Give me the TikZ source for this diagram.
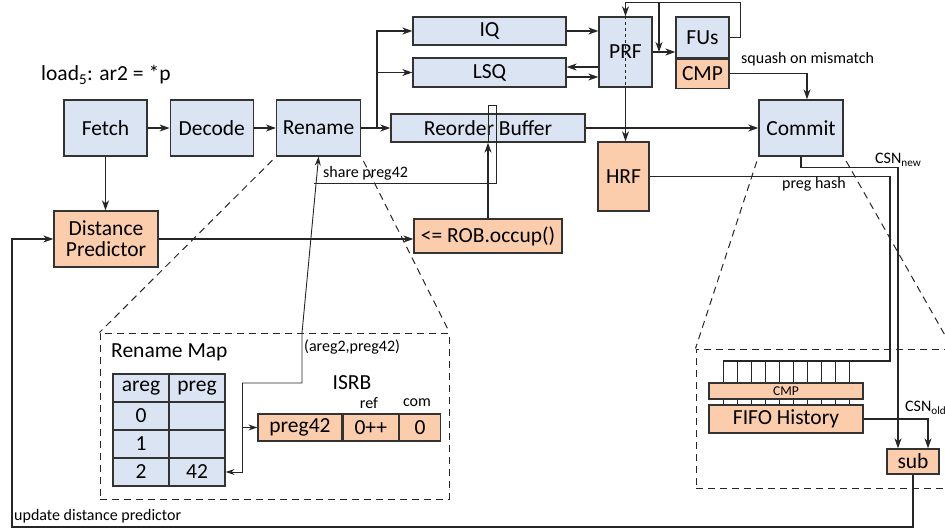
\documentclass[tikz,border=0pt]{standalone}
\usepackage{fontspec}
\setmainfont{Carlito}
\usetikzlibrary{arrows.meta, positioning, calc}
\definecolor{stageblue}{RGB}{219,228,243}
\definecolor{unitorange}{RGB}{252,205,172}
\newcommand{\blkfont}{\fontsize{21.5}{21}\selectfont}
\newcommand{\lblfont}{\fontsize{16}{18}\selectfont}
\newcommand{\cmpfont}{\fontsize{13.5}{14}\selectfont}
\tikzstyle{stage} = [draw=black!80, fill=stageblue, line width=1.3pt, inner sep=0pt, font=\blkfont]
\tikzstyle{unit} = [stage, fill=unitorange]
\tikzstyle{cell} = [stage, minimum width=56pt, minimum height=28pt]
\tikzstyle{wire} = [draw=black!85, line width=1.3pt]
\tikzstyle{thinwire} = [draw=black!85, line width=0.9pt]
\tikzstyle{link} = [wire, -{Stealth[length=10pt,width=7pt,inset=3pt]}]
\tikzstyle{thinlink} = [thinwire, -{Stealth[length=9pt,width=6pt,inset=3pt]}]
\tikzstyle{zoombox} = [draw=black!85, line width=1pt, dash pattern=on 7pt off 5pt]
\tikzstyle{zoomline} = [zoombox, shorten <=5pt]
\tikzstyle{note} = [font=\lblfont, inner sep=0pt]

\begin{document}
\begin{tikzpicture}[x=1pt, y=-1pt]
	\useasboundingbox (0,0) rectangle (945,531);
	\node[anchor=west, font=\blkfont, inner sep=0pt] (instr) at (41,75) {load\textsubscript{5}: ar2 = *p};
	\node[stage, minimum width=83pt, minimum height=56pt] (fetch) at (105.5,128) {Fetch};
	\node[stage, minimum width=83pt, minimum height=56pt, right=22pt of fetch] (decode) {Decode};
	\node[stage, minimum width=84pt, minimum height=56pt, right=22pt of decode] (rename) {Rename};
	\node[stage, minimum width=153pt, minimum height=28pt] (iq) at (489.5,31) {IQ};
	\node[stage, minimum width=153pt, minimum height=29pt] (lsq) at (489.5,72.5) {LSQ};
	\node[stage, minimum width=194pt, minimum height=28pt] (rob) at (488,128) {Reorder Buffer};
	\node[stage, minimum width=53pt, minimum height=70pt] (prf) at (625.5,52) {PRF};
	\node[stage, minimum width=53pt, minimum height=41pt] (fus) at (702.5,37.5) {FUs};
	\node[unit, minimum width=53pt, minimum height=29pt, below=0pt of fus] (cmp) {CMP};
	\node[unit, minimum width=51pt, minimum height=69pt] (hrf) at (623.5,176.5) {HRF};
	\node[stage, minimum width=84pt, minimum height=56pt] (commit) at (801,128) {Commit};
	\node[unit, minimum width=104pt, minimum height=56pt, align=center] (dp) at (106,239) {Distance\\Predictor};
	\node[unit, minimum width=148pt, minimum height=34pt] (occup) at (488,236) {<= ROB.occup()};

	\node[zoombox, minimum width=349pt, minimum height=166pt] (rmap) at (274.5,416) {};
	\node[anchor=west, font=\blkfont, inner sep=0pt] (rmaplbl) at (111,352) {Rename Map};
	\foreach \a/\p [count=\i] in {areg/preg,0/,1/,2/42}{
		\node[cell] (ra\i) at (141,360+28*\i) {\a};
		\node[cell] (rp\i) at (197,360+28*\i) {\p};
	}
	\node[note, font=\blkfont] (isrb) at (352,383) {ISRB};
	\node[note] (ref) at (369,403) {ref};
	\node[note] (com) at (417,403) {com};
	\node[unit, minimum width=84pt, minimum height=27pt] (isrbp) at (300,427.5) {preg42};
	\node[unit, minimum width=55pt, minimum height=27pt, right=0pt of isrbp] (isrbr) {0++};
	\node[unit, minimum width=41pt, minimum height=27pt, right=0pt of isrbr] (isrbc) {0};

	\node[zoombox, minimum width=256pt, minimum height=139pt] (cbox) at (824,418.5) {};
	\foreach \i in {0,...,9}{
		\draw[thinwire] (723+14*\i,361) -- (723+14*\i,383);
		\draw[thinwire] (723+14*\i,399) -- (723+14*\i,405);
	}
	\node[unit, minimum width=154pt, minimum height=16pt, font=\cmpfont] (cmpbar) at (786,391) {CMP};
	\node[unit, minimum width=154pt, minimum height=28pt] (fifo) at (786,419) {FIFO History};
	\node[unit, minimum width=52pt, minimum height=25pt] (sub) at (913,461.5) {sub};

	\draw[link] (fetch) -- (decode);
	\draw[link] (decode) -- (rename);
	\draw[link] (rename) -- (rob);
	\coordinate (br) at (377,128);
	\draw[link] (br) |- (iq.west);
	\draw[link] (br) |- (lsq.west);
	\draw[link] (iq.east) -- (iq.east -| prf.west);
	\coordinate (lsqa) at ([yshift=5.5pt]lsq.east);
	\coordinate (lsqb) at ([yshift=-4.5pt]lsq.east);
	\draw[link] (lsqa -| prf.west) -- (lsqa);
	\draw[link] (lsqb) -- (lsqb -| prf.west);
	\draw[link] (prf.east) -- (prf.east -| fus.west);
	\draw[link] (fus.east) -- ++(11,0) |- ([yshift=14pt]prf.north) -- (prf.north);
	\coordinate (fb) at (659,3);
	\draw[link] (fb) -- (fb |- prf.east);
	\draw[wire, dashed] (prf.north) -- (prf.south);
	\draw[link] (prf.south) -- (prf.south |- hrf.north);
	\draw[link] (cmp.east) -| ([xshift=6pt]commit.north);
	\node[note, anchor=south west] (squash) at (741,66) {squash on mismatch};
	\draw[link] (rob) -- (commit);

	\draw[link] (fetch.south) -- (fetch.south |- dp.north);
	\draw[link] (dp.east) -- (dp.east -| occup.west);
	\draw[link] (occup.north) -- (rob.south);
	\coordinate (shr) at (314,183);
	\draw[thinwire] (shr) -| ([xshift=8pt,yshift=8pt]rob.north) -- ([yshift=8pt]rob.north) -- (rob.south);
	\node[note, anchor=west] (sharelbl) at (323,173) {share preg42};

	\coordinate (j1) at (242,383);
	\coordinate (j2) at (302,383);
	\coordinate (j3) at (302,333);
	\draw[thinlink] (j1) -- (j2) -- (j3) -- (rename.south);
	\draw[thinlink] (j1) |- (rp4.east);
	\draw[thinlink] (j1 |- isrbp.west) -- (isrbp.west);
	\node[note, anchor=west] (pairlbl) at (304,347) {(areg2,preg42)};

	\coordinate (hashc) at (890,361);
	\draw[wire] (hrf.east) -| (hashc) -- (723,361);
	\node[note] (hashlbl) at (814,184) {preg hash};
	\draw[link] (commit.south) -- ++(0,11) -| ([xshift=-15pt]sub.north);
	\node[note, anchor=west] (newlbl) at (875,160) {CSN\textsubscript{new}};
	\draw[link] (fifo.east) -| ([xshift=15pt]sub.north);
	\node[note, anchor=west] (oldlbl) at (905,408) {CSN\textsubscript{old}};
	\coordinate (upd) at (12,527);
	\draw[link] (sub.south) |- (upd) |- (dp.west);
	\node[note, anchor=west] (updlbl) at (14,516) {update distance predictor};

	\draw[zoomline] (rename.south west) -- (rmap.north west);
	\draw[zoomline] (rename.south east) -- (rmap.north east);
	\draw[zoomline] (commit.south west) -- (cbox.north west);
	\draw[zoomline] (commit.south east) -- (cbox.north east);
\end{tikzpicture}
\end{document}
